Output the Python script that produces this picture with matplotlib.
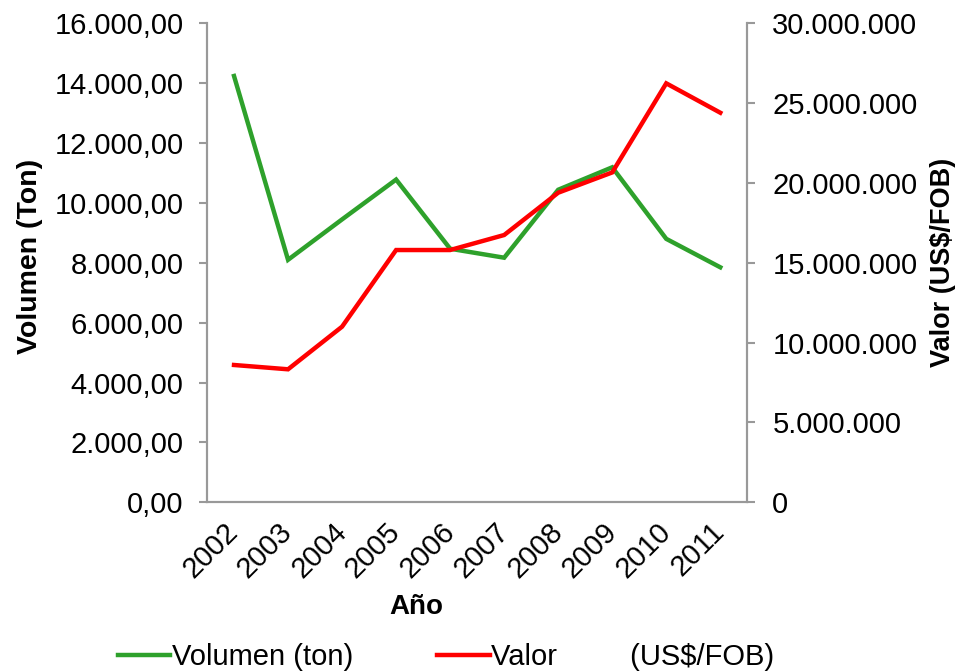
import matplotlib
matplotlib.use("Agg")
import matplotlib.pyplot as plt
from matplotlib.ticker import FuncFormatter, MultipleLocator

years = ["2002", "2003", "2004", "2005", "2006", "2007", "2008", "2009", "2010", "2011"]
volumen = [14240, 8100, 9450, 10780, 8470, 8170, 10440, 11190, 8800, 7850]
valor = [8600000, 8330000, 11000000, 15800000, 15800000, 16740000, 19390000, 20660000, 26240000, 24400000]

plt.rcParams['font.family'] = ['Liberation Sans', 'DejaVu Sans']
FS = 21
GREY = '#999999'
GREEN = '#2EA12B'
RED = '#FF0000'

fig = plt.figure(figsize=(9.57, 6.72), dpi=100)
W, H = 957, 672
ax = fig.add_axes([207 / W, 1 - 502.3 / H, (747.3 - 207) / W, (502.3 - 23.3) / H])
ax2 = ax.twinx()

x = list(range(len(years)))
l1, = ax.plot(x, volumen, color=GREEN, lw=3.2, solid_joinstyle='miter')
l2, = ax2.plot(x, valor, color=RED, lw=3.2, solid_joinstyle='miter')

ax.set_xlim(-0.5, len(years) - 0.5)
ax.set_ylim(0, 16000)
ax2.set_ylim(0, 30000000)
ax.yaxis.set_major_locator(MultipleLocator(2000))
ax2.yaxis.set_major_locator(MultipleLocator(5000000))


def fmt_left(v, pos):
    s = f"{v:,.2f}"
    return s.replace(",", "X").replace(".", ",").replace("X", ".")


def fmt_right(v, pos):
    if v == 0:
        return "0"
    return f"{int(v):,}".replace(",", ".")


ax.yaxis.set_major_formatter(FuncFormatter(fmt_left))
ax2.yaxis.set_major_formatter(FuncFormatter(fmt_right))

ax.set_xticks(x)
ax.set_xticklabels(years, rotation=45, ha='right', va='center', rotation_mode='anchor')

for a in (ax, ax2):
    a.spines['top'].set_visible(False)
    for side in ('left', 'right', 'bottom'):
        a.spines[side].set_color(GREY)
        a.spines[side].set_linewidth(1.5)

ax.tick_params(axis='y', length=6, width=1.5, color=GREY, labelsize=FS, pad=11)
ax2.tick_params(axis='y', length=6, width=1.5, color=GREY, labelsize=FS, pad=12)
ax.tick_params(axis='x', length=0, labelsize=FS, pad=18)

fig.text(30 / W, 1 - 256 / H, "Volumen (Ton)", rotation=90, ha='center', va='center',
         fontsize=20.5, fontweight='bold')
fig.text(943 / W, 1 - 262 / H, "Valor (US$/FOB)", rotation=90, ha='center', va='center',
         fontsize=19.5, fontweight='bold')
fig.text(416 / W, 1 - 607 / H, "Año", ha='center', va='center', fontsize=20,
         fontweight='bold')

fig.legend([l1, l2], ["Volumen (ton)", "Valor         (US$/FOB)"], loc='center',
           bbox_to_anchor=(446 / W, 1 - 657 / H), ncol=2, frameon=False, fontsize=FS,
           handlelength=1.8, handletextpad=0.05, columnspacing=2.9, borderpad=0)

fig.savefig("out.png", dpi=100)
